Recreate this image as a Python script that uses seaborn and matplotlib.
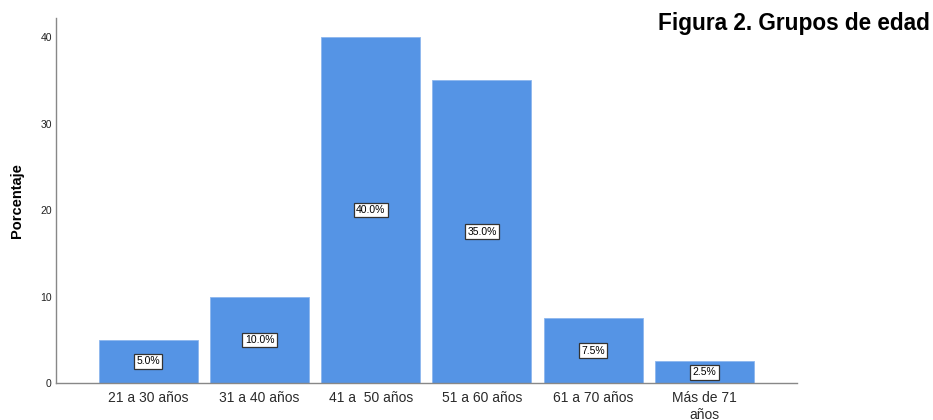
import matplotlib
matplotlib.use("Agg")
import matplotlib.pyplot as plt
import seaborn as sns
import pandas as pd

# Age groups and share of respondents (%)
grupos = ["21 a 30 años", "31 a 40 años", "41 a  50 años", "51 a 60 años",
          "61 a 70 años", "Más de 71\naños"]
porcentajes = [5.0, 10.0, 40.0, 35.0, 7.5, 2.5]
yticks = [0, 10, 20, 30, 40]

sns.set_style("white")
plt.rcParams["font.family"] = ["Liberation Sans", "DejaVu Sans"]
plt.rcParams["text.color"] = "black"

df = pd.DataFrame({"grupo": grupos, "pct": porcentajes})

fig = plt.figure(figsize=(9.33, 4.2), dpi=100)
ax = fig.add_axes([0.060, 0.088, 0.794, 0.869])

sns.barplot(data=df, x="grupo", y="pct", color="#5594E5", saturation=1,
            width=0.89, edgecolor="#8DB6EE", linewidth=0.6, ax=ax)

for patch, v in zip(ax.patches, porcentajes):
    cx = patch.get_x() + patch.get_width() / 2
    ax.text(cx, v / 2, f"{v:.1f}%", ha="center", va="center", fontsize=7.5,
            color="black",
            bbox=dict(boxstyle="square,pad=0.22", fc="white", ec="#333333", lw=0.9))

ax.set_xlim(-0.83, 5.83)
ax.set_ylim(0, 42.2)
ax.set_yticks(yticks)
ax.set_yticklabels([str(t) for t in yticks], fontsize=7.5, color="#222222")
ax.tick_params(axis="x", labelsize=10, length=0, pad=6, colors="#2a2a2a")
ax.tick_params(axis="y", length=0, pad=3)
ax.set_xlabel("")
ax.set_ylabel("Porcentaje", fontsize=10.5, fontweight="bold", color="black")
ax.yaxis.set_label_coords(-0.043, 0.5)

for side in ["top", "right"]:
    ax.spines[side].set_visible(False)
for side in ["left", "bottom"]:
    ax.spines[side].set_color("#888888")
    ax.spines[side].set_linewidth(1.0)

fig.text(0.997, 0.945, "Figura 2. Grupos de edad", ha="right", va="center",
         fontsize=16.3, fontweight="bold", color="black")

fig.savefig("out.png", dpi=100)
